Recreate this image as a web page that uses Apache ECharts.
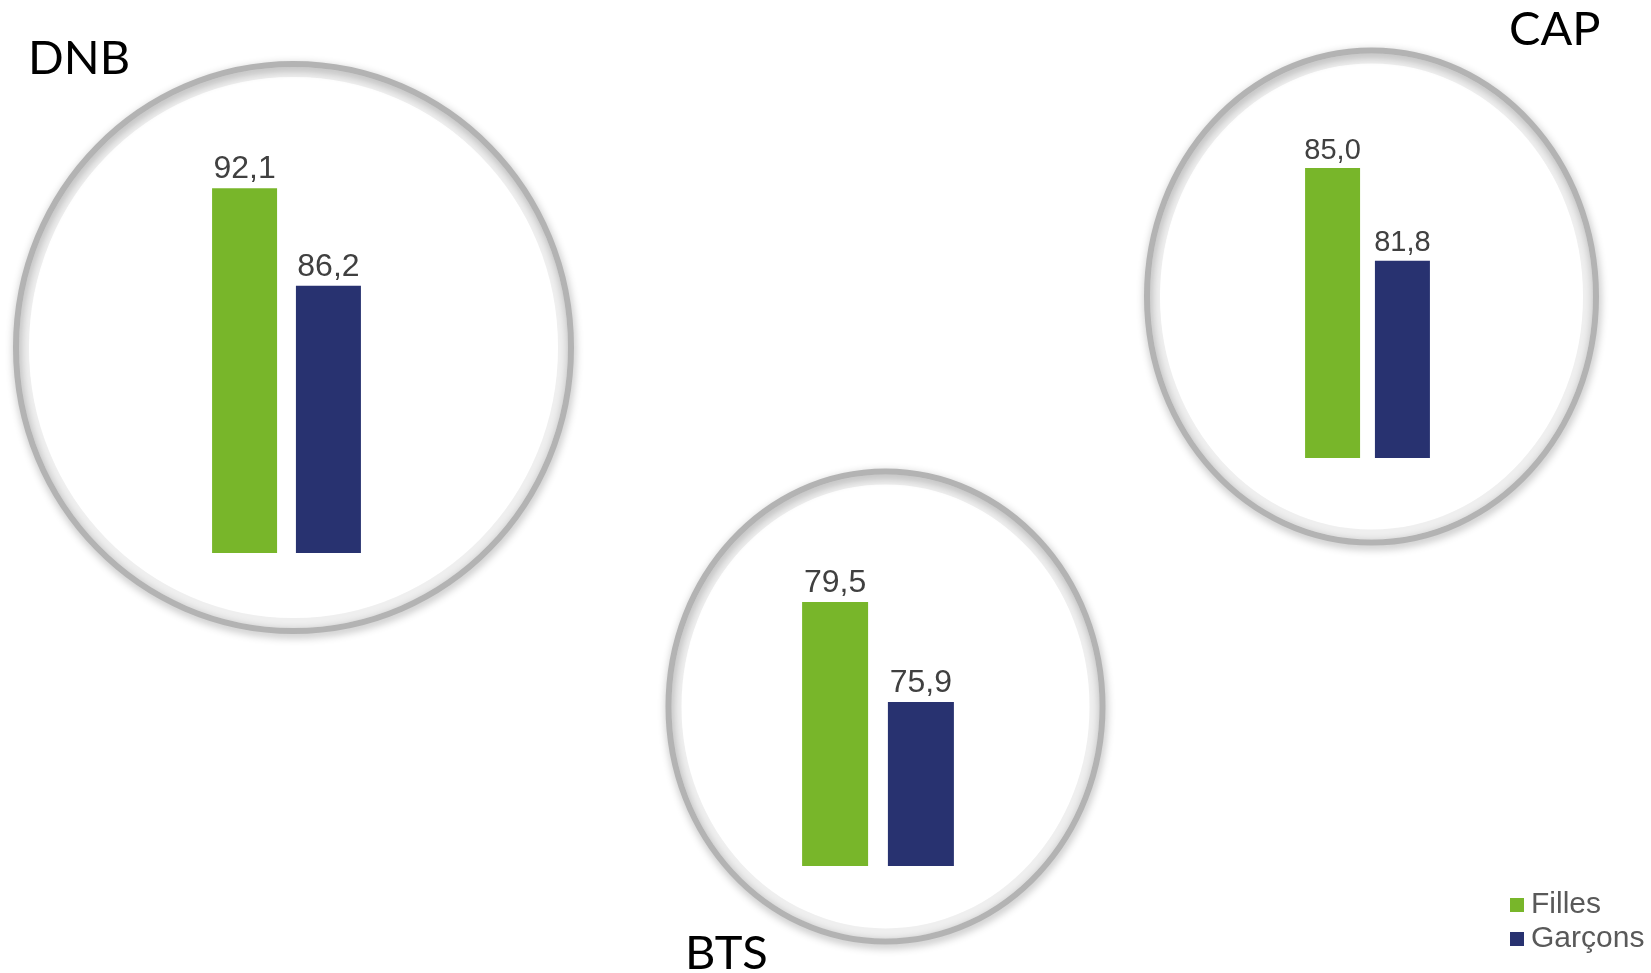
<!DOCTYPE html>
<html>
<head>
<meta charset="utf-8">
<script src="https://cdn.jsdelivr.net/npm/echarts@6/dist/echarts.min.js"></script>
<style>
  html, body { margin: 0; padding: 0; background: #fff; }
  #main { width: 1651px; height: 973px; }
</style>
</head>
<body>
<div id="main"></div>
<script>
// diplômes
const exams = ['DNB', 'BTS', 'CAP']
const seriesNames = ['Filles', 'Garçons']
// taux de réussite (%)
const filles = [92.1, 79.5, 85.0]
const garcons = [86.2, 75.9, 81.8]
// bornes des axes par graphique
const axisMin = [70, 70, 75]
const axisMax = [95, 82, 88]

const colors = ['#78b62a', '#283270']

const chart = echarts.init(document.getElementById('main'))

// placement de chaque petit graphique
const grids = [
  { left: 186.5, top: 140.5, width: 200, height: 412.5 },
  { left: 778, top: 532.4, width: 200, height: 333.6 },
  { left: 1267.5, top: 81, width: 200, height: 377 }
]
const barWidths = [65, 66, 55]
const barGaps = ['29%', '30%', '27%']
const labelSizes = [32, 32, 29]

// cercles autour des graphiques
const rings = [
  { cx: 293.5, cy: 347.5, rx: 277.5, ry: 283.5 },
  { cx: 885.5, cy: 706.5, rx: 217, ry: 235 },
  { cx: 1371.5, cy: 296.5, rx: 224.5, ry: 246 }
]

const series = []
exams.forEach((exam, i) => {
  const vals = [filles[i], garcons[i]]
  seriesNames.forEach((name, s) => {
    series.push({
      name: name,
      type: 'bar',
      xAxisIndex: i,
      yAxisIndex: i,
      barWidth: barWidths[i],
      barGap: barGaps[i],
      data: [vals[s]],
      itemStyle: { color: colors[s] },
      label: {
        show: true,
        position: 'top',
        distance: 3,
        color: '#404040',
        fontFamily: 'Liberation Sans',
        fontSize: labelSizes[i],
        formatter: p => p.value.toFixed(1).replace('.', ',')
      },
      emphasis: { disabled: true }
    })
  })
})

// anneau gris + halo intérieur
const ringGraphics = []
rings.forEach(r => {
  ringGraphics.push({
    type: 'ellipse',
    z: -2,
    silent: true,
    shape: { cx: r.cx, cy: r.cy, rx: r.rx - 8, ry: r.ry - 8 },
    style: {
      fill: null,
      stroke: 'rgba(0,0,0,0.06)',
      lineWidth: 10,
      shadowBlur: 10,
      shadowColor: 'rgba(0,0,0,0.12)'
    }
  })
  ringGraphics.push({
    type: 'ellipse',
    z: -1,
    silent: true,
    shape: { cx: r.cx, cy: r.cy, rx: r.rx, ry: r.ry },
    style: {
      fill: null,
      stroke: '#b3b3b3',
      lineWidth: 6,
      shadowBlur: 8,
      shadowColor: 'rgba(0,0,0,0.3)',
      shadowOffsetX: 1,
      shadowOffsetY: 3
    }
  })
})

const option = {
  animation: false,
  backgroundColor: '#fff',
  color: colors,
  title: [
    { text: 'DNB', left: 28, top: 35 },
    { text: 'BTS', left: 685, top: 930 },
    { text: 'CAP', left: 1509, top: 6 }
  ].map(t => Object.assign(t, {
    padding: 0,
    textStyle: { fontFamily: 'Lato', fontWeight: 'normal', fontSize: 47, color: '#000' }
  })),
  legend: {
    data: seriesNames,
    orient: 'vertical',
    left: 1510,
    top: 890,
    icon: 'rect',
    itemWidth: 14,
    itemHeight: 14,
    itemGap: 4,
    padding: 0,
    textStyle: { fontFamily: 'Liberation Sans', fontSize: 30, color: '#595959', padding: [0, 0, 0, 2] }
  },
  grid: grids,
  xAxis: exams.map((exam, i) => ({
    type: 'category',
    gridIndex: i,
    data: [exam],
    show: false
  })),
  yAxis: exams.map((exam, i) => ({
    type: 'value',
    gridIndex: i,
    min: axisMin[i],
    max: axisMax[i],
    show: false
  })),
  graphic: ringGraphics,
  series: series
}

chart.setOption(option)
</script>
</body>
</html>
